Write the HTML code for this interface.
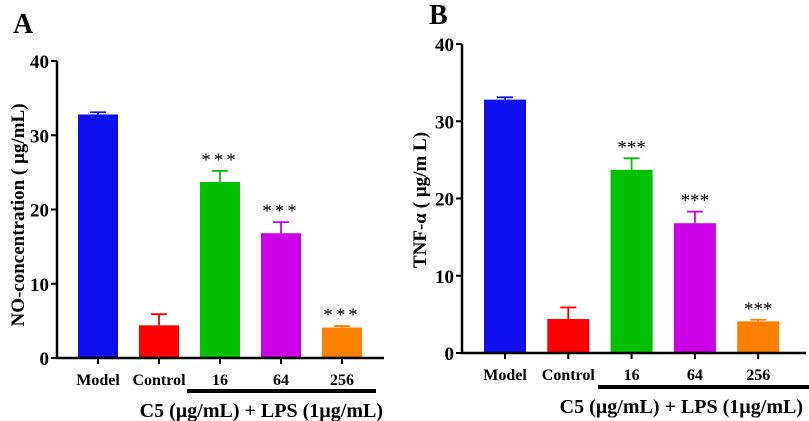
<!DOCTYPE html>
<html><head><meta charset="utf-8"><style>
body{margin:0;background:#fff;}
svg{display:block;font-family:"Liberation Serif",serif;font-weight:bold;}
</style></head><body>
<svg id="chart" width="809" height="421" viewBox="0 0 809 421" xmlns="http://www.w3.org/2000/svg"></svg>
<script>
const categories = ["Model","Control","16","64","256"];
const colors = ["#1010ee","#ff0000","#00c000","#cc00e6","#ff8000"];
const noValues = [32.8, 4.4, 23.7, 16.8, 4.1];
const noErrors = [0.3, 1.5, 1.5, 1.5, 0.2];
const tnfValues = [32.8, 4.4, 23.7, 16.8, 4.1];
const tnfErrors = [0.3, 1.5, 1.5, 1.5, 0.2];
const signif = ["","","***","***","***"];
const yTicks = [0,10,20,30,40];

const NS="http://www.w3.org/2000/svg";
const svg=document.getElementById('chart');
function mk(tag,attrs,parent){const e=document.createElementNS(NS,tag);for(const k in attrs)e.setAttribute(k,attrs[k]);(parent||svg).appendChild(e);return e;}

function panel(p){
  const g=mk('g',{});
  
  
  const y=v=>p.y0-(v/40)*(p.y0-p.y40);
  const x=i=>p.x0+i*p.step;
  const L=mk('text',{x:p.lx,y:p.ly,'font-size':28},g);L.textContent=p.letter;
  
  
  p.vals.forEach((v,i)=>{
    const cx=x(i);
    const top=y(v+p.errs[i]);
    const eb=mk('path',{d:`M${cx},${y(v)}V${top}M${cx-p.cap},${top}H${cx+p.cap}`,stroke:colors[i],'stroke-width':1.8,fill:'none'},g);
    
    
    const b=mk('rect',{x:cx-p.bw/2,y:y(v),width:p.bw,height:y(0)-y(v),fill:colors[i]},g);
    
    
    if(signif[i]){const s=mk('text',{x:cx,y:top-5,'text-anchor':'middle','font-size':19,'font-weight':'normal','letter-spacing':p.ls},g);s.textContent=signif[i];
      
      }
    mk('path',{d:`M${cx},${p.y0}v6`,stroke:'#000','stroke-width':2},g);
    const c=mk('text',{x:cx,y:p.y0+27,'text-anchor':'middle','font-size':16},g);c.textContent=categories[i];
    
    
  });
  const ax=mk('path',{d:`M${p.ax},${p.y40}V${p.y0}H${p.xend}`,stroke:'#000','stroke-width':2.5,fill:'none'},g);
  
  
  yTicks.forEach(t=>{
    mk('path',{d:`M${p.ax-6},${y(t)}H${p.ax}`,stroke:'#000','stroke-width':2},g);
    const tl=mk('text',{x:p.ax-8,y:y(t)+7,'text-anchor':'end','font-size':19},g);tl.textContent=t;
    
    
  });
  const yt=mk('text',{transform:`translate(${p.ytx},${p.ytc}) rotate(-90)`,'text-anchor':'middle','font-size':19},g);yt.textContent=p.ytitle;
  
  
  const ul=mk('rect',{x:p.ulx1,y:p.uly-2,width:p.ulx2-p.ulx1,height:4,fill:'#000'},g);
  
  
  const xt=mk('text',{x:p.tx2,y:p.uly+26,'text-anchor':'end','font-size':20},g);xt.textContent="C5 (µg/mL) + LPS (1µg/mL)";
  
  
}
panel({letter:'A',lx:13,ly:33,vals:noValues,errs:noErrors,y0:358,y40:61,x0:98,step:61,bw:40,cap:8,ax:57,xend:384,ytx:24,ytc:215,ytitle:'NO-concentration ( µg/mL)',ulx1:187,ulx2:376,tx2:383,uly:391,ls:3});
panel({letter:'B',lx:429,ly:24,vals:tnfValues,errs:tnfErrors,y0:353,y40:44,x0:505,step:63.3,bw:42,cap:8,ax:462,xend:806,ytx:426,ytc:200,ytitle:'TNF-α ( µg/m L)',ulx1:598,ulx2:809,tx2:803,uly:387,ls:0});
</script>
</body></html>
